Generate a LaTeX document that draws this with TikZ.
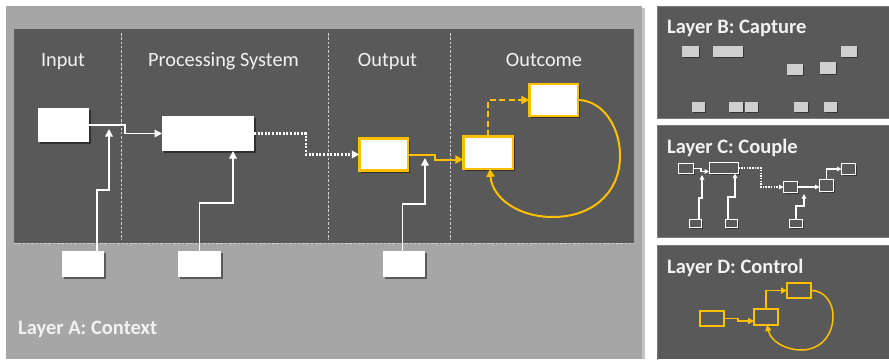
\documentclass[tikz,border=0pt]{standalone}
\usepackage{fontspec}
\setmainfont{Carlito}
\usetikzlibrary{arrows.meta,shadows}
\definecolor{outerA}{HTML}{A6A6A6}
\definecolor{outerrim}{HTML}{C4C4C4}
\definecolor{panel}{HTML}{595959}
\definecolor{panelrim}{HTML}{7A7A7A}
\definecolor{gold}{HTML}{FFC000}
\definecolor{captxt}{HTML}{F2F2F2}
\definecolor{chipgrey}{HTML}{CFCFCF}
\definecolor{divider}{HTML}{D0D0D0}

\begin{document}
\begin{tikzpicture}[x=1pt,y=-1pt,
  boxshadow/.style={drop shadow={shadow xshift=2pt,shadow yshift=-2pt,opacity=0.45,fill=black}},
  smallshadow/.style={drop shadow={shadow xshift=1.2pt,shadow yshift=-1.2pt,opacity=0.4,fill=black}},
  sz/.style 2 args={minimum width=#1pt,minimum height=#2pt},
  whitebox/.style={rectangle,fill=white,inner sep=0pt,outer sep=0pt,boxshadow},
  goldbox/.style={rectangle,fill=white,draw=gold,line width=2.5pt,inner sep=0pt,outer sep=0pt,boxshadow},
  chip/.style={rectangle,fill=chipgrey,inner sep=0pt,outer sep=0pt,smallshadow},
  minibox/.style={rectangle,fill=panel,draw=white,line width=1.3pt,inner sep=0pt,outer sep=0pt,smallshadow},
  minigold/.style={rectangle,fill=panel,draw=gold,line width=1.8pt,inner sep=0pt,outer sep=0pt,smallshadow},
  wline/.style={draw=white,line width=1.6pt,-{Triangle[length=7.5pt,width=7.5pt]}},
  wdots/.style={draw=white,line width=2.4pt,dash pattern=on 2pt off 1.6pt,-{Triangle[length=7.5pt,width=7.5pt]}},
  gline/.style={draw=gold,line width=2pt,-{Triangle[length=8pt,width=8pt]}},
  gdash/.style={gline,dash pattern=on 6pt off 3.5pt},
  mwline/.style={draw=white,line width=1.2pt,-{Triangle[length=4.5pt,width=4.5pt]}},
  mwdots/.style={draw=white,line width=1.6pt,dash pattern=on 1.5pt off 1.2pt,-{Triangle[length=4.5pt,width=4.5pt]}},
  mgline/.style={draw=gold,line width=1.5pt,-{Triangle[length=6pt,width=6pt]}},
  divline/.style={draw=divider,line width=0.9pt,dash pattern=on 2.5pt off 1.8pt},
  coltitle/.style={text=captxt,font=\fontsize{20.3}{24}\selectfont,anchor=base,inner sep=0pt},
  laytitle/.style={text=captxt,font=\fontsize{20.5}{24}\selectfont\bfseries,anchor=base west,inner sep=0pt}
]
\useasboundingbox (0,0) rectangle (889,359);
\fill[white] (0,0) rectangle (889,359);

% ---------------- Layer A: context frame and system panel ----------------
\fill[outerrim] (8,8) rectangle (645,359);
\fill[outerA] (6,6) rectangle (642,359);
\fill[panel] (14,29) rectangle (634,243);
\draw[divline] (14,243) -- (634,243);
\draw[divline] (121,33) -- (121,240);
\draw[divline] (328,33) -- (328,240);
\draw[divline] (450,33) -- (450,240);

\node[coltitle] (tin)  at (63,66)    {Input};
\node[coltitle] (tps)  at (223.5,66) {Processing System};
\node[coltitle] (tout) at (387.5,66) {Output};
\node[coltitle] (toc)  at (544,66)   {Outcome};

\node[whitebox,sz={51}{34}] (inp)  at (63.5,125) {};
\node[whitebox,sz={92}{35}] (proc) at (208,133.5) {};
\node[goldbox,sz={48.5}{32}] (outb) at (383.5,154.5) {};
\node[goldbox,sz={49.5}{32.5}] (lo) at (488,152.5) {};
\node[goldbox,sz={48.5}{32}] (up) at (553.5,100) {};

\node[whitebox,sz={42}{26}] (ctx1) at (83,264) {};
\node[whitebox,sz={43}{26}] (ctx2) at (199.5,264) {};
\node[whitebox,sz={42}{26}] (ctx3) at (403.5,264) {};

\coordinate (jA) at (109,129);
\coordinate (jB) at (425,158);

\draw[wline] (inp.east) -- (125,125) |- (proc.west);
\draw[wline] ([xshift=14pt]ctx1.north) |- (109,190) -- (jA);
\draw[wline] (ctx2.north) |- (233,203) -- ([xshift=25pt]proc.south);
\draw[wdots] (proc.east) -- (306,133.5) |- (outb.west);
\draw[wline] ([xshift=-1pt]ctx3.north) |- (425,204) -- (jB);
\draw[gline] (outb.east) -- (435,154.5) |- ([yshift=-7pt]lo.west);
\draw[gdash] (lo.north) |- (up.west);
\draw[gline] (up.east) .. controls (603,100) and (621,128) .. (620,158)
  .. controls (619,195) and (590,217) .. (553,217)
  .. controls (518,217) and (492,198) .. ([xshift=2pt]lo.south);

\node[laytitle] (labA) at (18,334) {Layer A: Context};

% ---------------- Layer B: capture ----------------
\fill[panel] (657,6) rectangle (889,118);
\draw[panelrim,line width=0.6pt] (657,6) rectangle (889,118);
\node[laytitle] (labB) at (667,33) {Layer B: Capture};
\node[chip,sz={17}{11}] (b1) at (690.5,51.5) {};
\node[chip,sz={30}{11}] (b2) at (728,51.5) {};
\node[chip,sz={16}{11}] (b3) at (849,51.5) {};
\node[chip,sz={16}{11}] (b4) at (795,69.5) {};
\node[chip,sz={16}{12}] (b5) at (828,68) {};
\node[chip,sz={13}{10}] (b6) at (698.5,107) {};
\node[chip,sz={14}{10}] (b7) at (736,107) {};
\node[chip,sz={13}{10}] (b8) at (751.5,107) {};
\node[chip,sz={14}{10}] (b9) at (801,107) {};
\node[chip,sz={13}{10}] (b10) at (830,107) {};

% ---------------- Layer C: couple ----------------
\fill[panel] (657,125) rectangle (889,237);
\draw[panelrim,line width=0.6pt] (657,125) rectangle (889,237);
\node[laytitle] (labC) at (667,153) {Layer C: Couple};
\node[minibox,sz={15}{10}] (c1) at (686,168.5) {};
\node[minibox,sz={29}{11}] (c2) at (724,168) {};
\node[minibox,sz={14}{11}] (c3) at (790.5,187) {};
\node[minibox,sz={14}{12}] (c4) at (826.5,185.5) {};
\node[minibox,sz={14}{11}] (c5) at (848.5,169) {};
\node[minibox,sz={12}{8}] (c6) at (695.5,223.5) {};
\node[minibox,sz={12}{8}] (c7) at (731.5,223.5) {};
\node[minibox,sz={13}{8}] (c8) at (796,223.5) {};

\coordinate (jC) at (702,175);
\coordinate (jD) at (804,194);
\draw[mwline] (c1.east) -- (701,168.5) |- (709,171.5);
\draw[mwline] ([xshift=3.5pt]c6.north) |- (702,198) -- (jC);
\draw[mwline] ([xshift=-3.5pt]c7.north) |- (735,197) -- ([xshift=11pt]c2.south);
\draw[mwdots] (c2.east) -- (761,168) |- (c3.west);
\draw[mwline] (c3.east) -- (c4.west |- c3.east);
\draw[mwline] (c8.north) |- (804,206) -- (jD);
\draw[mwline] (c4.north) |- (c5.west);

% ---------------- Layer D: control ----------------
\fill[panel] (657,245) rectangle (889,359);
\draw[panelrim,line width=0.6pt] (657,245) rectangle (889,362);
\node[laytitle] (labD) at (667,273) {Layer D: Control};
\node[minigold,sz={24}{15}] (d1) at (712,318.5) {};
\node[minigold,sz={24}{16}] (d2) at (766,317) {};
\node[minigold,sz={24}{15}] (d3) at (799,290.5) {};

\draw[mgline] (d1.east) -- (738,318.5) |- ([yshift=-4pt]d2.west);
\draw[mgline] (d2.north) |- (d3.west);
\draw[mgline] (d3.east) .. controls (824,290) and (834,303) .. (833,318)
  .. controls (832,338) and (818,350) .. (802,350)
  .. controls (786,350) and (771,342) .. ([xshift=1pt]d2.south);
\end{tikzpicture}
\end{document}
